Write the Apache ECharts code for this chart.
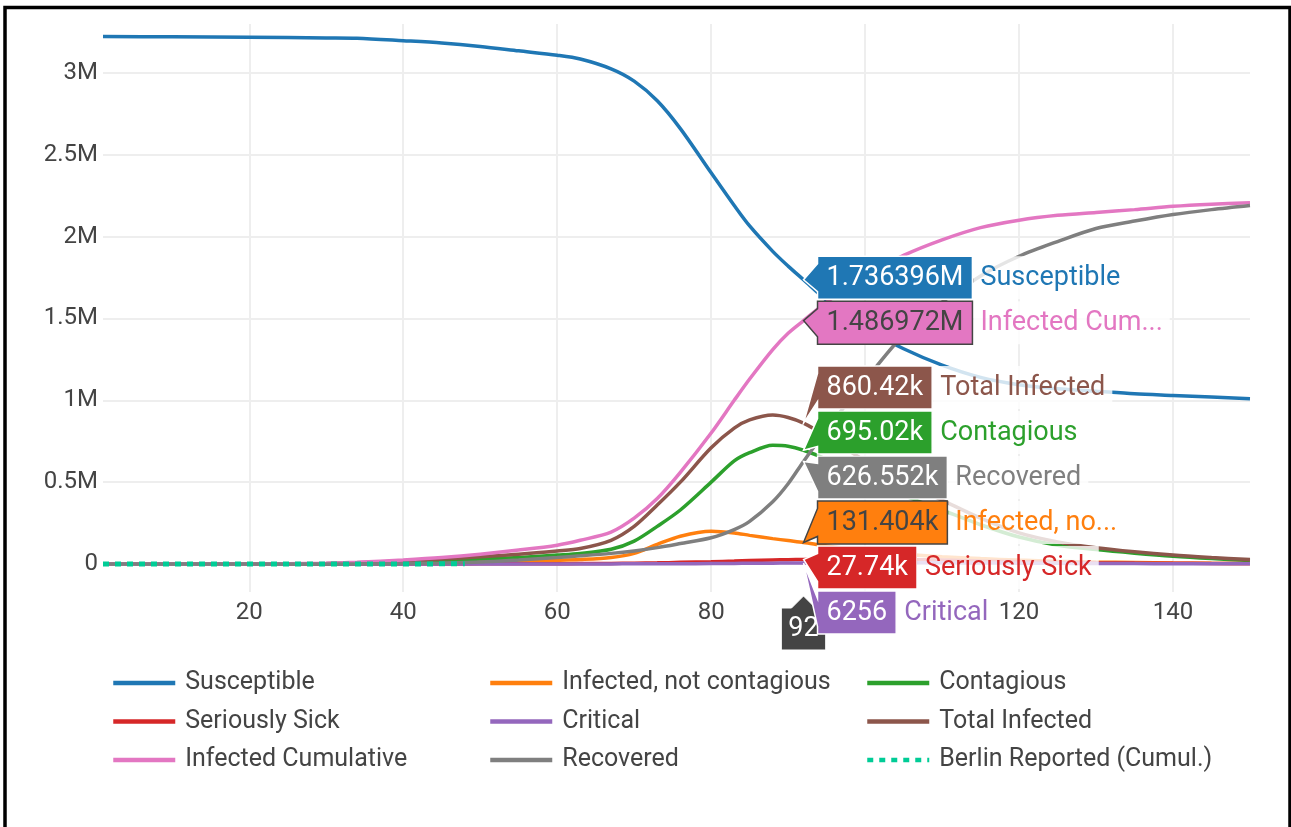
<!DOCTYPE html>
<html><head><meta charset="utf-8">
<script src="https://cdn.jsdelivr.net/npm/echarts@6/dist/echarts.min.js"></script>
<style>html,body{margin:0;padding:0;background:#fff}#c{width:1291px;height:827px}</style>
</head><body><div id="c"></div>
<script>
// ---- data ----
const days = [1, 10, 20, 30, 34, 40, 45, 50, 55, 60, 63, 67, 70, 73, 76, 80, 83, 85, 88, 90, 92, 95, 100, 105, 110, 115, 120, 125, 130, 135, 140, 145, 150];
const susceptible = [3222000, 3221000, 3218000, 3214000, 3212000, 3197000, 3183000, 3162000, 3135000, 3108000, 3085000, 3025000, 2950000, 2830000, 2660000, 2390000, 2190000, 2065000, 1910000, 1820000, 1736396, 1610000, 1440000, 1315000, 1215000, 1140000, 1095000, 1070000, 1055000, 1040000, 1030000, 1020000, 1010000];
const infectedNotContagious = [0, 0, 100, 1000, 2000, 5000, 8000, 12000, 16000, 22000, 27000, 40000, 65000, 120000, 170000, 200000, 190000, 175000, 155000, 143000, 131404, 110000, 82000, 60000, 45000, 33000, 24000, 17000, 12000, 9000, 6000, 4000, 3000];
const contagious = [0, 0, 200, 2000, 4000, 10000, 20000, 30000, 40000, 55000, 65000, 90000, 140000, 230000, 330000, 500000, 630000, 680000, 725000, 720000, 695020, 640000, 530000, 420000, 330000, 240000, 165000, 115000, 88000, 66000, 47000, 33000, 22000];
const seriouslySick = [0, 0, 0, 0, 100, 300, 600, 1000, 1500, 2000, 2500, 3500, 5000, 7000, 10000, 14000, 18000, 21000, 25000, 26500, 27740, 29000, 29500, 28000, 24000, 19000, 15000, 11000, 8000, 6000, 4500, 3500, 2500];
const critical = [0, 0, 0, 0, 20, 50, 100, 200, 300, 400, 500, 700, 1000, 1300, 1800, 2700, 3600, 4200, 5200, 5800, 6256, 6800, 7400, 7500, 7000, 6000, 5000, 4000, 3000, 2400, 1900, 1500, 1200];
const totalInfected = [0, 0, 300, 3000, 7000, 18000, 30000, 45000, 60000, 80000, 95000, 145000, 230000, 360000, 500000, 710000, 830000, 880000, 910000, 895000, 860420, 780000, 630000, 500000, 390000, 280000, 190000, 135000, 100000, 75000, 55000, 40000, 27000];
const infectedCumulative = [0, 0, 500, 4000, 10000, 25000, 40000, 60000, 85000, 115000, 145000, 195000, 280000, 400000, 560000, 800000, 1000000, 1130000, 1310000, 1410000, 1486972, 1600000, 1760000, 1885000, 1980000, 2055000, 2100000, 2130000, 2148000, 2165000, 2185000, 2198000, 2207000];
const recovered = [0, 0, 0, 500, 1000, 3000, 6000, 12000, 25000, 40000, 50000, 65000, 80000, 100000, 125000, 160000, 210000, 260000, 380000, 490000, 626552, 820000, 1120000, 1400000, 1600000, 1760000, 1880000, 1970000, 2050000, 2095000, 2135000, 2165000, 2190000];
const berlinDays = [1, 5, 10, 15, 20, 25, 30, 35, 38, 40, 42, 44, 46, 48];
const berlinReported = [0, 0, 0, 0, 0, 1, 3, 15, 48, 137, 332, 731, 1077, 1428];
const yTicks = [0, 500000, 1000000, 1500000, 2000000, 2500000, 3000000];
const yTickLabels = ['0', '0.5M', '1M', '1.5M', '2M', '2.5M', '3M'];
const xTicks = [20, 40, 60, 80, 100, 120, 140];
const hoverDay = 92;

const seriesDefs = [
  {name: 'Susceptible', values: susceptible, color: '#1f77b4'},
  {name: 'Infected, not contagious', values: infectedNotContagious, color: '#ff7f0e'},
  {name: 'Contagious', values: contagious, color: '#2ca02c'},
  {name: 'Seriously Sick', values: seriouslySick, color: '#d62728'},
  {name: 'Critical', values: critical, color: '#9467bd'},
  {name: 'Total Infected', values: totalInfected, color: '#8c564b'},
  {name: 'Infected Cumulative', values: infectedCumulative, color: '#e377c2'},
  {name: 'Recovered', values: recovered, color: '#7f7f7f'},
];
const berlinDef = {name: 'Berlin Reported (Cumul.)', color: '#00cc96'};

const FONT = 'Roboto';
const chart = echarts.init(document.getElementById('c'), null, {renderer: 'canvas'});

const series = seriesDefs.map(s => ({
  name: s.name, type: 'line', symbol: 'none', showSymbol: false, smooth: 0.3,
  data: days.map((d, i) => [d, s.values[i]]),
  lineStyle: {color: s.color, width: 3.5}, itemStyle: {color: s.color},
  emphasis: {disabled: true}
}));
series.push({
  name: berlinDef.name, type: 'line', symbol: 'none', showSymbol: false,
  data: berlinDays.map((d, i) => [d, berlinReported[i]]),
  lineStyle: {color: berlinDef.color, width: 5, type: [6, 6]}, itemStyle: {color: berlinDef.color},
  emphasis: {disabled: true}
});

function legendCol(left, names) {
  return {
    orient: 'vertical', left: left, top: 670, padding: 0, itemWidth: 62, itemHeight: 14, itemGap: 12.5,
    data: names, selectedMode: false,
    itemStyle: {opacity: 0, borderWidth: 0},
    lineStyle: {width: 4.5, opacity: 1},
    textStyle: {color: '#444', fontSize: 25, fontFamily: FONT, lineHeight: 26, padding: [0, 0, 0, 5]}
  };
}

chart.setOption({
  animation: false,
  textStyle: {fontFamily: FONT},
  grid: {left: 103, right: 41, top: 24, bottom: 235, containLabel: false},
  xAxis: {
    type: 'value', min: 1, max: 150,
    axisLine: {show: false},
    axisTick: {show: false, customValues: xTicks},
    axisLabel: {customValues: xTicks, color: '#444', fontSize: 24, fontFamily: FONT, margin: 9},
    splitLine: {show: true, lineStyle: {color: '#eee', width: 2}}
  },
  yAxis: {
    type: 'value', min: -171000, max: 3299000,
    axisLine: {show: false},
    axisTick: {show: false, customValues: yTicks},
    axisLabel: {customValues: yTicks, color: '#444', fontSize: 24, fontFamily: FONT, margin: 5,
      formatter: v => { const i = yTicks.indexOf(v); return i >= 0 ? yTickLabels[i] : ''; }},
    splitLine: {show: true, lineStyle: {color: '#eee', width: 2}}
  },
  legend: [
    legendCol(111, ['Susceptible', 'Seriously Sick', 'Infected Cumulative']),
    legendCol(488, ['Infected, not contagious', 'Critical', 'Recovered']),
    legendCol(865, ['Contagious', 'Total Infected', 'Berlin Reported (Cumul.)'])
  ],
  series: series
});

// ---- hover labels at hoverDay, placed through the chart's own scales ----
const ctx = document.createElement('canvas').getContext('2d');
const LFONT = '27px ' + FONT;
ctx.font = LFONT;
const tw = t => ctx.measureText(t).width;
function fmt(v) { if (v >= 1e6) return String(v / 1e6) + 'M'; if (v >= 1e4) return String(v / 1e3) + 'k'; return String(v); }
function trunc(n) { return n.length > 15 ? n.slice(0, 12) + '...' : n; }
const lightBg = {'#e377c2': 1, '#ff7f0e': 1};

const hi = days.indexOf(hoverDay);
const items = seriesDefs.map(s => {
  const v = s.values[hi];
  const p = chart.convertToPixel({gridIndex: 0}, [hoverDay, v]);
  return {s: s, v: v, px: p[0], py: p[1]};
}).sort((a, b) => a.py - b.py);

const SP = 45, H = 43, A = 14, PAD = 9;
let groups = items.map(it => ({m: [it]}));
function place(g) {
  const n = g.m.length;
  const mean = g.m.reduce((a, b) => a + b.py, 0) / n;
  g.m.forEach((it, k) => { it.ly = mean + (k - (n - 1) / 2) * SP; });
  g.top = mean - (n - 1) / 2 * SP - SP / 2;
  g.bot = mean + (n - 1) / 2 * SP + SP / 2;
}
groups.forEach(place);
let changed = true;
while (changed) {
  changed = false;
  for (let i = 0; i < groups.length - 1; i++) {
    if (groups[i].bot > groups[i + 1].top) {
      groups[i].m = groups[i].m.concat(groups[i + 1].m);
      groups.splice(i + 1, 1);
      place(groups[i]);
      changed = true; break;
    }
  }
}

const gfx = [];
// frame
gfx.push({type: 'rect', shape: {x: 5, y: 7.5, width: 1285, height: 840}, style: {fill: 'none', stroke: '#000', lineWidth: 3.5}, z: 200, silent: true});

// x hover label
const gb = chart.convertToPixel({gridIndex: 0}, [hoverDay, -171000]);
const xp = gb[0], ty = gb[1] + 4;
const xt = String(hoverDay), xw = tw(xt) + 14, XH = 42;
gfx.push({type: 'polygon', z: 100, silent: true,
  shape: {points: [[xp, ty], [xp + 12, ty + 12], [xp + xw / 2, ty + 12], [xp + xw / 2, ty + 12 + XH], [xp - xw / 2, ty + 12 + XH], [xp - xw / 2, ty + 12], [xp - 12, ty + 12]]},
  style: {fill: '#444', stroke: '#fff', lineWidth: 1}});
gfx.push({type: 'text', z: 101, silent: true, x: xp, y: ty + 12 + XH / 2,
  style: {text: xt, font: LFONT, fill: '#fff', align: 'center', verticalAlign: 'middle'}});

items.forEach((it, k) => {
  const c = it.s.color, light = lightBg[c];
  const txt = fmt(it.v), w = tw(txt) + 2 * PAD;
  const px = it.px, py = it.py, ly = it.ly;
  const bx = px + A;
  const z = 110 + k * 3;
  gfx.push({type: 'polygon', z: z, silent: true,
    shape: {points: [[px, py], [bx, ly + A], [bx, ly + H / 2], [bx + w, ly + H / 2], [bx + w, ly - H / 2], [bx, ly - H / 2], [bx, ly - A]]},
    style: {fill: c, stroke: light ? '#444' : '#fff', lineWidth: 1.5}});
  gfx.push({type: 'text', z: z + 1, silent: true, x: bx + PAD, y: ly + 1,
    style: {text: txt, font: LFONT, fill: light ? '#444' : '#fff', align: 'left', verticalAlign: 'middle'}});
  const nm = trunc(it.s.name), nw = tw(nm);
  gfx.push({type: 'rect', z: z - 1, silent: true, shape: {x: bx + w + 1, y: ly - H / 2, width: nw + 14, height: H},
    style: {fill: 'rgba(255,255,255,0.8)'}});
  gfx.push({type: 'text', z: z + 1, silent: true, x: bx + w + 8, y: ly + 1,
    style: {text: nm, font: LFONT, fill: c, align: 'left', verticalAlign: 'middle'}});
});

chart.setOption({graphic: gfx});
</script>
</body></html>
